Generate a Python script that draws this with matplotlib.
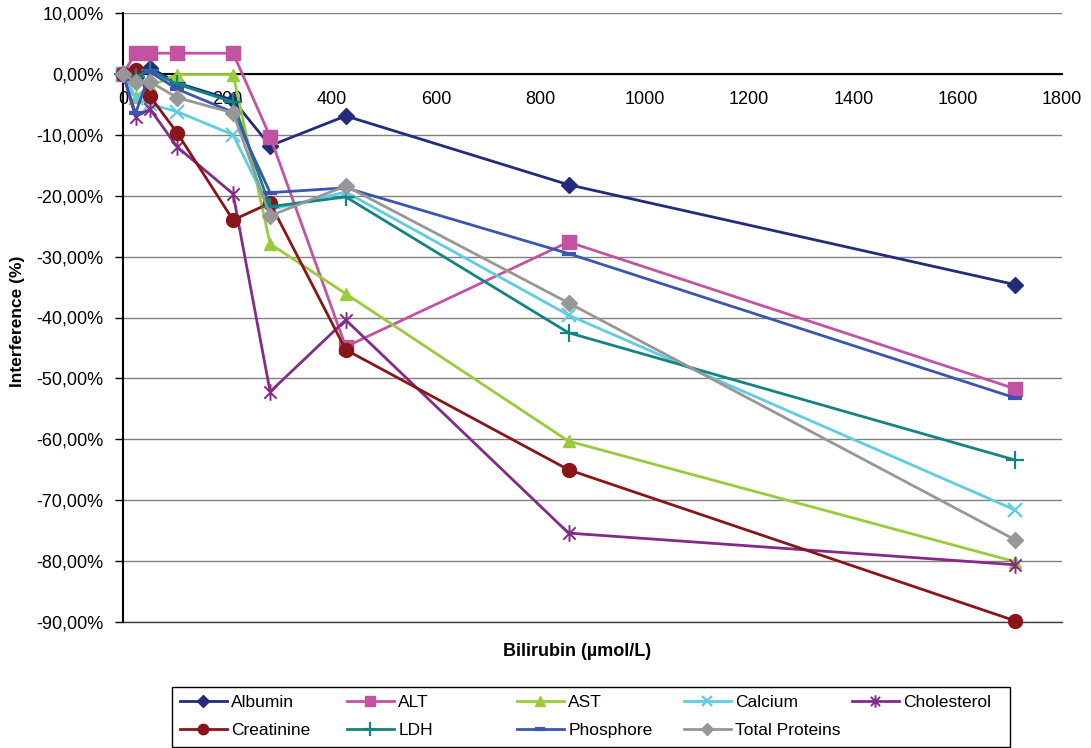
import matplotlib
matplotlib.use("Agg")
import matplotlib.pyplot as plt
from matplotlib.path import Path
from matplotlib.patches import Rectangle
from matplotlib.ticker import FuncFormatter

plt.rcParams['font.family'] = ['Liberation Sans', 'DejaVu Sans']

# ---- data ----
bilirubin = [0, 24, 52, 104, 211, 282, 427, 854, 1710]
albumin = [0, -0.5, 1.0, -1.5, -4.3, -11.8, -6.9, -18.2, -34.6]
alt = [0, 3.4, 3.4, 3.4, 3.4, -10.3, -44.8, -27.6, -51.7]
ast = [0, -3.8, -2.0, -0.1, -0.1, -27.9, -36.1, -60.3, -80.1]
calcium = [0, -3.9, -5.0, -6.2, -10.0, -22.3, -19.4, -39.6, -71.6]
cholesterol = [0, -7.0, -5.8, -12.0, -19.7, -52.2, -40.4, -75.4, -80.6]
creatinine = [0, 0.6, -3.7, -9.7, -24.0, -21.2, -45.3, -65.0, -89.8]
ldh = [0, -0.5, 0.6, -1.7, -4.6, -21.8, -20.2, -42.5, -63.4]
phosphore = [0, -6.5, 0.3, -2.5, -6.3, -19.5, -18.7, -29.5, -53.2]
total_proteins = [0, -1.3, -1.3, -3.9, -6.4, -23.3, -18.4, -37.6, -76.5]

names = ['Albumin', 'ALT', 'AST', 'Calcium', 'Cholesterol',
         'Creatinine', 'LDH', 'Phosphore', 'Total Proteins']
values = [albumin, alt, ast, calcium, cholesterol,
          creatinine, ldh, phosphore, total_proteins]
x_ticks = [0, 200, 400, 600, 800, 1000, 1200, 1400, 1600, 1800]
y_ticks = [10, 0, -10, -20, -30, -40, -50, -60, -70, -80, -90]

# ---- styles ----
star = Path([(-1, -1), (1, 1), (-1, 1), (1, -1), (0, -1.35), (0, 1.35)],
            [Path.MOVETO, Path.LINETO, Path.MOVETO, Path.LINETO, Path.MOVETO, Path.LINETO])
styles = {
    'Albumin': dict(color='#232B7C', marker='D', ms=8),
    'ALT': dict(color='#C452A3', marker='s', ms=10),
    'AST': dict(color='#9ACB3C', marker='^', ms=9),
    'Calcium': dict(color='#5FCDE0', marker='x', ms=10, mew=1.6),
    'Cholesterol': dict(color='#842A88', marker=star, ms=12, mew=1.4, mfc='none'),
    'Creatinine': dict(color='#8A1518', marker='o', ms=10),
    'LDH': dict(color='#148383', marker='+', ms=13, mew=1.6),
    'Phosphore': dict(color='#3A56B1', marker='_', ms=10, mew=3),
    'Total Proteins': dict(color='#979797', marker='D', ms=8),
}

W, H = 1091, 748
fig = plt.figure(figsize=(W / 100, H / 100), dpi=100)
ax = fig.add_axes([123 / W, 1 - 622 / H, (1062 - 123) / W, (622 - 13) / H])

handles = []
for name, vals in zip(names, values):
    st = styles[name]
    ln, = ax.plot(bilirubin, vals, color=st['color'], lw=2.0, marker=st['marker'],
                  ms=st['ms'], mew=st.get('mew', 1.0), mec=st['color'],
                  mfc=st.get('mfc', st['color']), clip_on=False, zorder=3, label=name)
    handles.append(ln)

ax.set_xlim(0, 1800)
ax.set_ylim(-90, 10)
ax.set_xticks(x_ticks)
ax.set_yticks(y_ticks)
ax.yaxis.set_major_formatter(FuncFormatter(lambda v, p: f"{v:.2f}%".replace('.', ',')))
ax.grid(axis='y', color='#808080', lw=1.0, zorder=1)
ax.axhline(-90, color='#404040', lw=1.0, zorder=1, clip_on=False)
ax.set_axisbelow(True)

for s in ['top', 'right']:
    ax.spines[s].set_visible(False)
ax.spines['bottom'].set_position(('data', 0))
ax.spines['bottom'].set_zorder(2)
ax.spines['left'].set_linewidth(1.5)
ax.spines['bottom'].set_linewidth(1.5)
ax.tick_params(axis='y', labelsize=13, length=6, width=1, direction='out', pad=8)
ax.tick_params(axis='x', labelsize=13, length=0, pad=12)

fig.text(18 / W, 1 - 321 / H, 'Interference (%)', rotation=90, ha='center', va='center',
         fontsize=12.5, fontweight='bold')
fig.text(577 / W, 1 - 652 / H, 'Bilirubin (µmol/L)', ha='center', va='center',
         fontsize=13, fontweight='bold')

# ---- legend: uniform columns like the original ----
fig.patches.append(Rectangle((172 / W, 1 - 747 / H), 838 / W, 60 / H,
                             transform=fig.transFigure, fill=False, ec='black', lw=1.0))
col_x = [180, 347, 517, 684, 852]
order = [[0, 5], [1, 6], [2, 7], [3, 8], [4]]
for cx, idxs in zip(col_x, order):
    fig.legend(handles=[handles[i] for i in idxs], labels=[names[i] for i in idxs],
               loc='upper left', bbox_to_anchor=(cx / W, 1 - 695 / H),
               bbox_transform=fig.transFigure, frameon=False, fontsize=12.5,
               handlelength=2.7, handletextpad=0.25, borderpad=0, borderaxespad=0,
               labelspacing=0.72, markerscale=0.75)

fig.savefig('out.png', dpi=100)
